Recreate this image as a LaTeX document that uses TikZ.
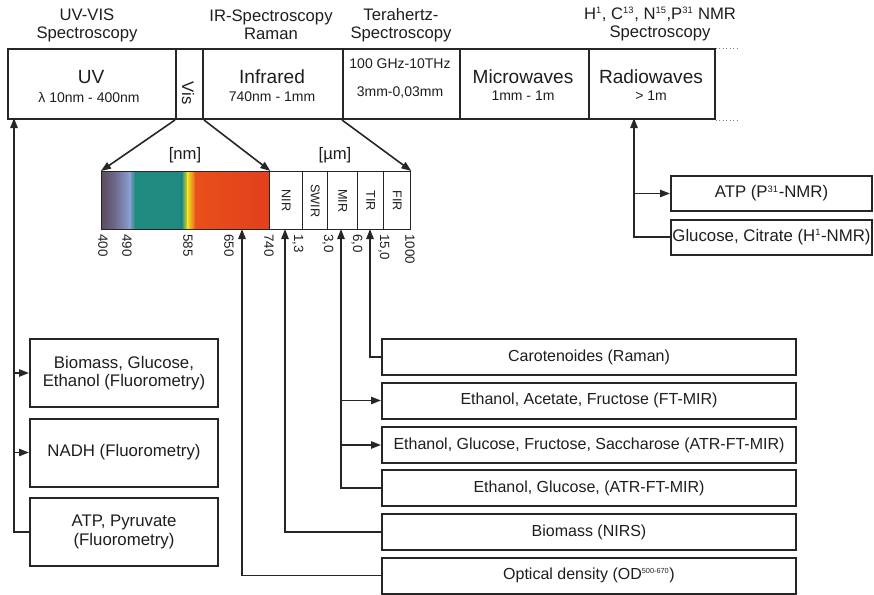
\documentclass[tikz,border=0pt]{standalone}
\usepackage{fontspec}
\setmainfont{Liberation Sans}
\usetikzlibrary{arrows.meta}
\definecolor{ln}{HTML}{262626}
\definecolor{tx}{HTML}{1E1E1E}
\definecolor{cpur}{HTML}{5B4A5C}
\definecolor{cpur2}{HTML}{6E6C8E}
\definecolor{cblue}{HTML}{8A9FD2}
\definecolor{cteal}{HTML}{208A80}
\definecolor{cyel}{HTML}{F2E21E}
\definecolor{cora}{HTML}{E8501C}
\definecolor{cred}{HTML}{E2401C}
\newcommand\sps[1]{\textsuperscript{\fontsize{7}{7}\selectfont #1}}
\begin{document}
\begin{tikzpicture}[x=0.75pt,y=-0.75pt,
  every node/.style={text=tx},
  cell/.style={draw=ln,line width=1.5pt,minimum height=52.5pt,inner sep=0pt,anchor=north west},
  icell/.style={draw=ln,line width=1pt,minimum height=43.5pt,inner sep=0pt,anchor=north west},
  box/.style={draw=ln,line width=1.5pt,inner sep=0pt,align=center,font=\fontsize{12}{13.5}\selectfont},
  lbox/.style={box,minimum width=141pt,minimum height=51pt,font=\fontsize{12.6}{13.8}\selectfont},
  rbox/.style={box,minimum width=310.5pt,minimum height=27pt},
  nbox/.style={box,minimum width=150.75pt,minimum height=26.25pt,font=\fontsize{12.6}{14}\selectfont},
  arr/.style={draw=ln,line width=1.2pt,-{Triangle[length=7.5pt,width=5.5pt]}},
  toplbl/.style={align=center,font=\fontsize{12.5}{13.5}\selectfont},
  biglbl/.style={font=\fontsize{14.3}{16}\selectfont},
  smllbl/.style={font=\fontsize{10.5}{12}\selectfont},
  irlbl/.style={rotate=-90,font=\fontsize{9.5}{10}\selectfont},
  tick/.style={rotate=-90,anchor=west,inner sep=0pt,font=\fontsize{10}{10}\selectfont}
]
\useasboundingbox (0,0) rectangle (874,594);

% top labels
\node[toplbl] (t1) at (87,25) {UV-VIS\\Spectroscopy};
\node[toplbl] (t2) at (271,25) {IR-Spectroscopy\\Raman};
\node[toplbl] (t3) at (401,25) {Terahertz-\\Spectroscopy};
\node[toplbl] (t4) at (660,24) {H\sps{1}, C\sps{13}, N\sps{15},P\sps{31} NMR\\Spectroscopy};

% top bar
\node[cell,minimum width=126pt] (uv) at (7,48) {};
\node[cell,minimum width=20.25pt] (vis) at (175,48) {};
\node[cell,minimum width=105pt] (ir) at (202,48) {};
\node[cell,minimum width=87.75pt] (thz) at (342,48) {};
\node[cell,minimum width=96.75pt] (mw) at (459,48) {};
\node[cell,minimum width=94.5pt] (rw) at (588,48) {};
\draw[gray,dotted,line width=0.6pt] (rw.north east) -- ++(24,0) coordinate (dte);
\draw[gray,dotted,line width=0.6pt] (rw.south east) -- ++(24,0) coordinate (dbe);

\node[biglbl] (uvl) at (91,77) {UV};
\node[smllbl] (uvs) at (89,97) {λ 10nm - 400nm};
\node[rotate=-90,font=\fontsize{12.5}{14}\selectfont] (visl) at (188,93) {Vis};
\node[biglbl] (irl) at (272,77) {Infrared};
\node[smllbl] (irs) at (272,97) {740nm - 1mm};
\node[smllbl] (thz1) at (400,64) {100 GHz-10THz};
\node[smllbl] (thz2) at (400,93) {3mm-0,03mm};
\node[biglbl] (mwl) at (523,77) {Microwaves};
\node[smllbl] (mws) at (523,96) {1mm - 1m};
\node[biglbl] (rwl) at (651,77) {Radiowaves};
\node[smllbl] (rws) at (651,96) {> 1m};

% spectrum
\shade[left color=cpur,right color=cpur2] (101,171) rectangle (116,229);
\shade[left color=cpur2,right color=cblue] (115.5,171) rectangle (130,229);
\shade[left color=cblue,right color=cteal] (129.5,171) rectangle (135,229);
\fill[cteal] (134.5,171) rectangle (182,229);
\shade[left color=cteal,right color=cyel] (181.5,171) rectangle (188,229);
\shade[left color=cyel,right color=cora] (187.5,171) rectangle (196,229);
\shade[left color=cora,right color=cred] (195.5,171) rectangle (269,229);
\node[icell,minimum width=126pt] (spec) at (101,171) {};
\node[icell,minimum width=24.75pt] (nir) at (269,171) {};
\node[icell,minimum width=18.75pt] (swir) at (302,171) {};
\node[icell,minimum width=22.5pt] (mir) at (327,171) {};
\node[icell,minimum width=19.5pt] (tir) at (357,171) {};
\node[icell,minimum width=20.25pt] (fir) at (383,171) {};
\node[irlbl] (nirl) at (nir.center) {NIR};
\node[irlbl] (swirl) at (swir.center) {SWIR};
\node[irlbl] (mirl) at (mir.center) {MIR};
\node[irlbl] (tirl) at (tir.center) {TIR};
\node[irlbl] (firl) at (fir.center) {FIR};
\node[font=\fontsize{12.5}{14}\selectfont] (nm) at (185,155) {[nm]};
\node[font=\fontsize{12.5}{14}\selectfont] (um) at (335,155) {[µm]};

\draw[arr] (vis.south west) -- (spec.north west);
\draw[arr] (vis.south east) -- (spec.north east);
\draw[arr] (thz.south west) -- (fir.north east);

% ticks
\node[tick] (k1) at (103,234) {400};
\node[tick] (k2) at (127,234) {490};
\node[tick] (k3) at (188,234) {585};
\node[tick] (k4) at (229,234) {650};
\node[tick] (k5) at (269,234) {740};
\node[tick] (k6) at (298,234) {1,3};
\node[tick] (k7) at (328,234) {3,0};
\node[tick] (k8) at (357,234) {6,0};
\node[tick] (k9) at (384,234) {15,0};
\node[tick] (k10) at (410,234) {1000};

% NMR boxes
\node[nbox] (atp) at (771.5,193.5) {ATP (P\sps{31}-NMR)};
\node[nbox] (glu) at (771.5,237) {Glucose, Citrate (H\sps{1}-NMR)};
\coordinate (rwin) at (634,118);
\draw[arr] (glu.west) -| (rwin);
\draw[arr] (rwin |- atp.west) -- (atp.west);

% left boxes
\node[lbox] (b1) at (124,373) {Biomass, Glucose,\\Ethanol (Fluorometry)};
\node[lbox] (b2) at (124,452.5) {NADH (Fluorometry)};
\node[lbox] (b3) at (124,532) {ATP, Pyruvate\\(Fluorometry)};
\coordinate (uvin) at (14,118);
\draw[arr] (b3.west) -| (uvin);
\draw[arr] (uvin |- b1.west) -- (b1.west);
\draw[arr] (uvin |- b2.west) -- (b2.west);

% right boxes
\node[rbox] (r1) at (589,357) {Carotenoides (Raman)};
\node[rbox] (r2) at (589,400.5) {Ethanol, Acetate, Fructose (FT-MIR)};
\node[rbox] (r3) at (589,445) {Ethanol, Glucose, Fructose, Saccharose (ATR-FT-MIR)};
\node[rbox] (r4) at (589,488) {Ethanol, Glucose, (ATR-FT-MIR)};
\node[rbox] (r5) at (589,532) {Biomass (NIRS)};
\node[rbox] (r6) at (589,575.5) {Optical density (OD\textsuperscript{\fontsize{5.5}{6}\selectfont 500-670})};

\coordinate (tirin) at (370,229);
\coordinate (mirin) at (341,229);
\coordinate (nirin) at (285,229);
\coordinate (odin) at (242,229);
\draw[arr] (r1.west) -| (tirin);
\draw[arr] (r4.west) -| (mirin);
\draw[arr] (mirin |- r2.west) -- (r2.west);
\draw[arr] (mirin |- r3.west) -- (r3.west);
\draw[arr] (r5.west) -| (nirin);
\draw[arr] (r6.west) -| (odin);
\end{tikzpicture}
\end{document}
